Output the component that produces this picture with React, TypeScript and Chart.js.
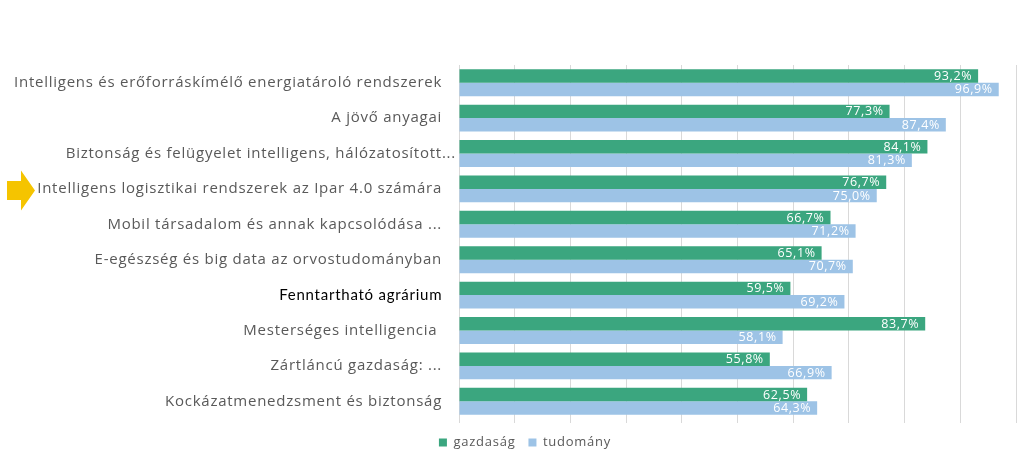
import React, { useEffect, useRef } from "react";
import { Chart, registerables } from "chart.js";

Chart.register(...registerables);

const categories = [
  "Intelligens és erőforráskímélő energiatároló rendszerek",
  "A jövő anyagai",
  "Biztonság és felügyelet intelligens, hálózatosított...",
  "Intelligens logisztikai rendszerek az Ipar 4.0 számára",
  "Mobil társadalom és annak kapcsolódása ...",
  "E-egészség és big data az orvostudományban",
  "Fenntartható agrárium",
  "Mesterséges intelligencia ",
  "Zártláncú gazdaság: ...",
  "Kockázatmenedzsment és biztonság",
];
const gazdasag = [93.2, 77.3, 84.1, 76.7, 66.7, 65.1, 59.5, 83.7, 55.8, 62.5];
const tudomany = [96.9, 87.4, 81.3, 75.0, 71.2, 70.7, 69.2, 58.1, 66.9, 64.3];
const seriesNames = ["gazdaság", "tudomány"];
const highlightedIndex = 3;

const GREEN = "#3ba67f";
const BLUE = "#9dc3e6";
const LABEL_GREY = "#595959";

const fmt = (v: number) => v.toFixed(1).replace(".", ",") + "%";

const spacingPlugin = {
  id: "letterSpacing",
  beforeInit(chart: any) {
    chart.ctx.letterSpacing = "0.75px";
  },
  afterLayout(chart: any) {
    // legend in the reference sits slightly right of the page centre
    const lg = chart.legend;
    if (lg) {
      lg.left += 11;
      lg.right += 11;
    }
  },
  beforeDraw(chart: any) {
    chart.ctx.letterSpacing = "0.75px";
  },
};

const valueLabelPlugin = {
  id: "valueLabels",
  afterDatasetsDraw(chart: any) {
    const ctx = chart.ctx;
    ctx.save();
    ctx.letterSpacing = "0.6px";
    ctx.fillStyle = "#ffffff";
    ctx.font = "12.5px 'Open Sans'";
    ctx.textAlign = "right";
    ctx.textBaseline = "middle";
    chart.data.datasets.forEach((ds: any, di: number) => {
      const meta = chart.getDatasetMeta(di);
      meta.data.forEach((bar: any, i: number) => {
        ctx.fillText(fmt(ds.data[i]), bar.x - 6, bar.y + 0.5);
      });
    });
    ctx.restore();
  },
};

const arrowPlugin = {
  id: "arrowMarker",
  afterDraw(chart: any) {
    const y = chart.scales.y.getPixelForValue(highlightedIndex) + 1.5;
    const ctx = chart.ctx;
    ctx.save();
    ctx.fillStyle = "#f5c400";
    ctx.beginPath();
    ctx.moveTo(7, y - 9.5);
    ctx.lineTo(21, y - 9.5);
    ctx.lineTo(21, y - 20);
    ctx.lineTo(35, y);
    ctx.lineTo(21, y + 20);
    ctx.lineTo(21, y + 9.5);
    ctx.lineTo(7, y + 9.5);
    ctx.closePath();
    ctx.fill();
    ctx.restore();
  },
};

export default function App() {
  const ref = useRef<HTMLCanvasElement>(null);
  useEffect(() => {
    if (!ref.current) return;
    const chart = new Chart(ref.current, {
      type: "bar",
      data: {
        labels: categories,
        datasets: [
          {
            label: seriesNames[0],
            data: gazdasag,
            backgroundColor: GREEN,
            borderWidth: 0,
            barPercentage: 1,
            categoryPercentage: 0.76,
          },
          {
            label: seriesNames[1],
            data: tudomany,
            backgroundColor: BLUE,
            borderWidth: 0,
            barPercentage: 1,
            categoryPercentage: 0.76,
          },
        ],
      },
      options: {
        indexAxis: "y",
        animation: false,
        responsive: false,
        maintainAspectRatio: false,
        layout: { padding: { top: 65, left: 0, right: 7, bottom: 0 } },
        scales: {
          x: {
            type: "linear",
            min: 0,
            max: 100,
            ticks: { display: false, stepSize: 10 },
            grid: { color: "#d9d9d9", tickLength: 4, drawTicks: true, lineWidth: 1 },
            border: { display: false },
          },
          y: {
            type: "category",
            grid: { display: false, drawTicks: false },
            border: { display: false },
            afterFit: (scale: any) => {
              scale.width = 459;
            },
            ticks: {
              padding: 3,
              autoSkip: false,
              color: (c: any) => (c.index === 6 ? "#000000" : LABEL_GREY),
              font: (c: any) =>
                c.index === 6
                  ? { family: "Lato", size: 15 }
                  : { family: "'Open Sans'", size: 15 },
              callback: (_v: any, i: number) =>
                i === 2 ? categories[i] : categories[i] + "   ",
            },
          },
        },
        plugins: {
          legend: {
            position: "bottom",
            labels: {
              boxWidth: 8,
              boxHeight: 8,
              padding: 13,
              color: LABEL_GREY,
              font: { family: "'Open Sans'", size: 13 },
            },
          },
          tooltip: { enabled: false },
        },
      },
      plugins: [spacingPlugin, valueLabelPlugin, arrowPlugin],
    });
    return () => chart.destroy();
  }, []);
  return (
    <div style={{ position: "absolute", left: 0, top: 0, width: 1023, height: 459, background: "#fff" }}>
      <canvas ref={ref} width={1023} height={459} style={{ width: 1023, height: 459 }} />
    </div>
  );
}
